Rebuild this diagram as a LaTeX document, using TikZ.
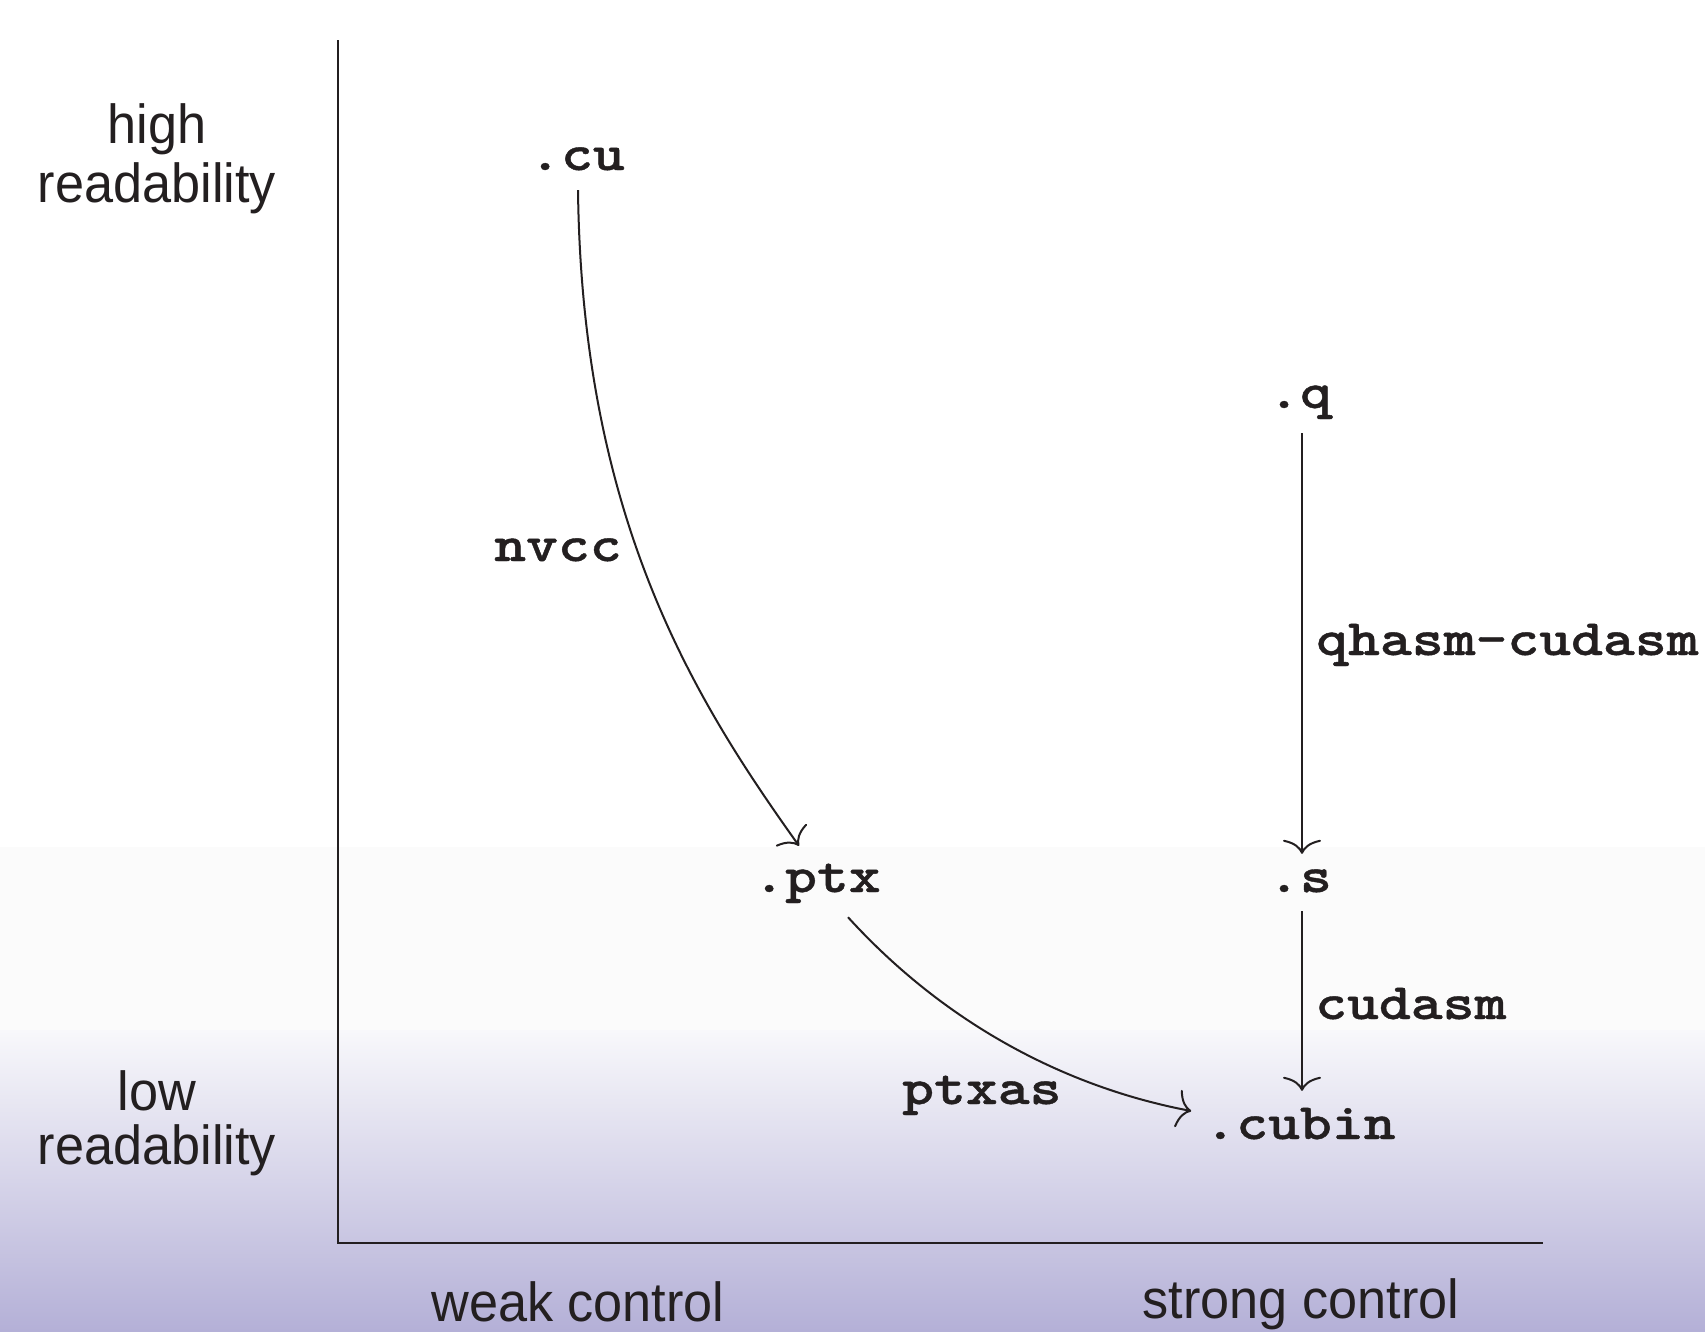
\documentclass[tikz,border=0pt]{standalone}
\usepackage{fontspec}
\usetikzlibrary{arrows.meta}
\setmainfont{Liberation Sans}
\newfontfamily\nsans[FakeStretch=0.95]{Liberation Sans}
\newfontfamily\cmono{lmmonolt10-bold}[Extension=.otf,FakeStretch=1.19,FakeBold=0.8]
\definecolor{ink}{HTML}{231F20}
\definecolor{bgA}{RGB}{251,251,251}
\definecolor{bgB}{RGB}{248,248,251}
\definecolor{bgC}{RGB}{220,218,236}
\definecolor{bgD}{RGB}{180,176,215}
\begin{document}
\begin{tikzpicture}[x=1pt,y=-1pt,
 mono/.style={font=\cmono\fontsize{51}{51}\selectfont, inner sep=0pt, text height=30pt, text depth=8pt, anchor=base, text=ink},
 lbl/.style={font=\cmono\fontsize{51}{51}\selectfont, inner sep=0pt, anchor=base west, text=ink},
 sans/.style={font=\nsans\fontsize{55}{54}\selectfont, inner sep=0pt, anchor=base, text=ink},
 conn/.style={draw=ink, line width=2pt, -{Computer Modern Rightarrow[length=14pt,width=38pt,line width=2pt]}},
 axisline/.style={draw=ink, line width=2.4pt}]
\useasboundingbox (0,0) rectangle (1705,1331);
\fill[white] (0,0) rectangle (1705,847);
\fill[bgA] (0,847) rectangle (1705,1030);
\shade[top color=bgB, middle color=bgC, bottom color=bgD] (0,1030) rectangle (1705,1331);
% axes
\coordinate (ytop) at (338,40);
\coordinate (orig) at (338,1243);
\coordinate (xend) at (1543,1243);
\draw[axisline] (ytop) -- (orig) -- (xend);
% axis texts
\node[sans] (high) at (157,143) {high};
\node[sans] (read1) at (157,202) {readability};
\node[sans] (low) at (157,1110) {low};
\node[sans] (read2) at (157,1164) {readability};
\node[sans] (weak) at (578,1321) {weak control};
\node[sans] (strong) at (1301,1318) {strong control};
% files
\node[mono] (cu) at (577,170) {.cu};
\node[mono] (ptx) at (817,892) {.ptx};
\node[mono] (q) at (1300,408) {.q};
\node[mono] (s) at (1300,892) {.s};
\node[mono] (cubin) at (1300,1139) {.cubin};
% tool labels
\node[lbl] (nvcc) at (494,561) {nvcc};
\node[lbl] (qc) at (1316,655) {qhasm-cudasm};
\node[lbl] (cudasm) at (1315,1019) {cudasm};
\node[lbl] (ptxas) at (902,1104) {ptxas};
% connectors
\draw[conn] ([xshift=1pt,yshift=-12pt]cu.south) .. controls (582,520) and (695,700) .. ([xshift=-18pt,yshift=16pt]ptx.north);
\draw[conn] ([xshift=31pt,yshift=-17pt]ptx.south) .. controls (948,1027) and (1070,1088) .. ([xshift=-13pt,yshift=17pt]cubin.west);
\draw[conn] ([xshift=2pt,yshift=-17pt]q.south) -- ([xshift=2pt,yshift=8pt]s.north);
\draw[conn] ([xshift=2pt,yshift=-11pt]s.south) -- ([xshift=2pt,yshift=18pt]cubin.north);
\end{tikzpicture}
\end{document}
